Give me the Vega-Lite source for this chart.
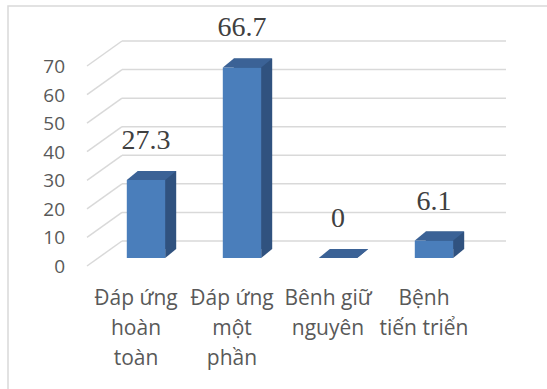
{
  "$schema": "https://vega.github.io/schema/vega-lite/v6.json",
  "width": 549,
  "height": 393,
  "autosize": {"type": "none"},
  "padding": {"left": 8, "top": 6, "right": -10, "bottom": -10},
  "background": "white",
  "config": {"view": {"stroke": "#d9d9d9", "strokeWidth": 1.5}},
  "datasets": {
    "bars": [
      {"cat": "Đáp ứng hoàn toàn", "label": "Đáp ứng\nhoàn\ntoàn", "value": 27.3},
      {"cat": "Đáp ứng một phần", "label": "Đáp ứng\nmột\nphần", "value": 66.7},
      {"cat": "Bênh giữ nguyên", "label": "Bênh giữ\nnguyên", "value": 0},
      {"cat": "Bệnh tiến triển", "label": "Bệnh\ntiến triển", "value": 6.1}
    ],
    "ticks": [
      {"tick": 0}, {"tick": 10}, {"tick": 20}, {"tick": 30},
      {"tick": 40}, {"tick": 50}, {"tick": 60}, {"tick": 70}
    ]
  },
  "layer": [
    {
      "data": {"name": "ticks"},
      "mark": {"type": "rule", "color": "#d9d9d9", "strokeWidth": 1.5, "xOffset": -48, "x2Offset": 48},
      "encoding": {
        "x": {"datum": "Đáp ứng hoàn toàn", "type": "nominal", "axis": null,
              "scale": {"domain": ["Đáp ứng hoàn toàn", "Đáp ứng một phần", "Bênh giữ nguyên", "Bệnh tiến triển"],
                        "range": [114, 498], "paddingInner": 0.6, "paddingOuter": 0.3}},
        "x2": {"datum": "Bệnh tiến triển"},
        "y": {"field": "tick", "type": "quantitative", "axis": null,
              "scale": {"domain": [0, 70], "range": [235, 35], "nice": false, "zero": true}}
      }
    },
    {
      "data": {"name": "ticks"},
      "mark": {"type": "rule", "color": "#d9d9d9", "strokeWidth": 1.5, "xOffset": -83, "yOffset": 25, "x2Offset": -48, "y2Offset": 0},
      "encoding": {
        "x": {"datum": "Đáp ứng hoàn toàn", "type": "nominal", "axis": null},
        "x2": {"datum": "Đáp ứng hoàn toàn"},
        "y": {"field": "tick", "type": "quantitative", "axis": null},
        "y2": {"field": "tick"}
      }
    },
    {
      "data": {"name": "ticks"},
      "mark": {"type": "text", "align": "right", "baseline": "middle", "xOffset": -105, "yOffset": 26,
               "font": "Open Sans", "fontSize": 19, "color": "#595959"},
      "encoding": {
        "x": {"datum": "Đáp ứng hoàn toàn", "type": "nominal", "axis": null},
        "y": {"field": "tick", "type": "quantitative", "axis": null},
        "text": {"field": "tick", "type": "quantitative"}
      }
    },
    {
      "data": {"name": "bars"},
      "mark": {"type": "bar", "color": "#30527F", "xOffset": -13, "yOffset": 8, "y2Offset": 8},
      "encoding": {
        "x": {"field": "cat", "type": "nominal", "axis": null},
        "y": {"field": "value", "type": "quantitative", "axis": null},
        "y2": {"datum": 0}
      }
    },
    {
      "data": {"name": "bars"},
      "mark": {"type": "point", "shape": "M 0.619 0 L 0.619 -0.29 L 0.974 -0.29 Z", "size": 3844,
               "filled": true, "color": "#30527F", "opacity": 1, "strokeWidth": 0, "xOffset": -24, "yOffset": 17},
      "encoding": {
        "x": {"field": "cat", "type": "nominal", "axis": null},
        "y": {"datum": 0, "type": "quantitative", "axis": null}
      }
    },
    {
      "data": {"name": "bars"},
      "mark": {"type": "bar", "color": "#4A7EBB", "xOffset": -24, "yOffset": 17, "y2Offset": 17},
      "encoding": {
        "x": {"field": "cat", "type": "nominal", "axis": null},
        "y": {"field": "value", "type": "quantitative", "axis": null},
        "y2": {"datum": 0}
      }
    },
    {
      "data": {"name": "bars"},
      "mark": {"type": "point", "shape": "M -0.619 0 L 0.619 0 L 0.974 -0.29 L -0.265 -0.29 Z", "size": 3844,
               "filled": true, "color": "#3B6296", "opacity": 1, "strokeWidth": 0, "xOffset": -24, "yOffset": 17},
      "encoding": {
        "x": {"field": "cat", "type": "nominal", "axis": null},
        "y": {"field": "value", "type": "quantitative", "axis": null}
      }
    },
    {
      "data": {"name": "bars"},
      "mark": {"type": "text", "align": "center", "baseline": "alphabetic", "xOffset": -24, "yOffset": -14,
               "font": "Liberation Serif", "fontSize": 28, "color": "#404040"},
      "encoding": {
        "x": {"field": "cat", "type": "nominal", "axis": null},
        "y": {"field": "value", "type": "quantitative", "axis": null},
        "text": {"field": "value", "type": "quantitative"}
      }
    },
    {
      "data": {"name": "bars"},
      "mark": {"type": "text", "align": "center", "baseline": "top", "xOffset": -34, "yOffset": 47,
               "lineBreak": "\n", "lineHeight": 30, "font": "Open Sans", "fontSize": 21, "color": "#595959"},
      "encoding": {
        "x": {"field": "cat", "type": "nominal", "axis": null},
        "y": {"datum": 0, "type": "quantitative", "axis": null},
        "text": {"field": "label", "type": "nominal"}
      }
    }
  ]
}
